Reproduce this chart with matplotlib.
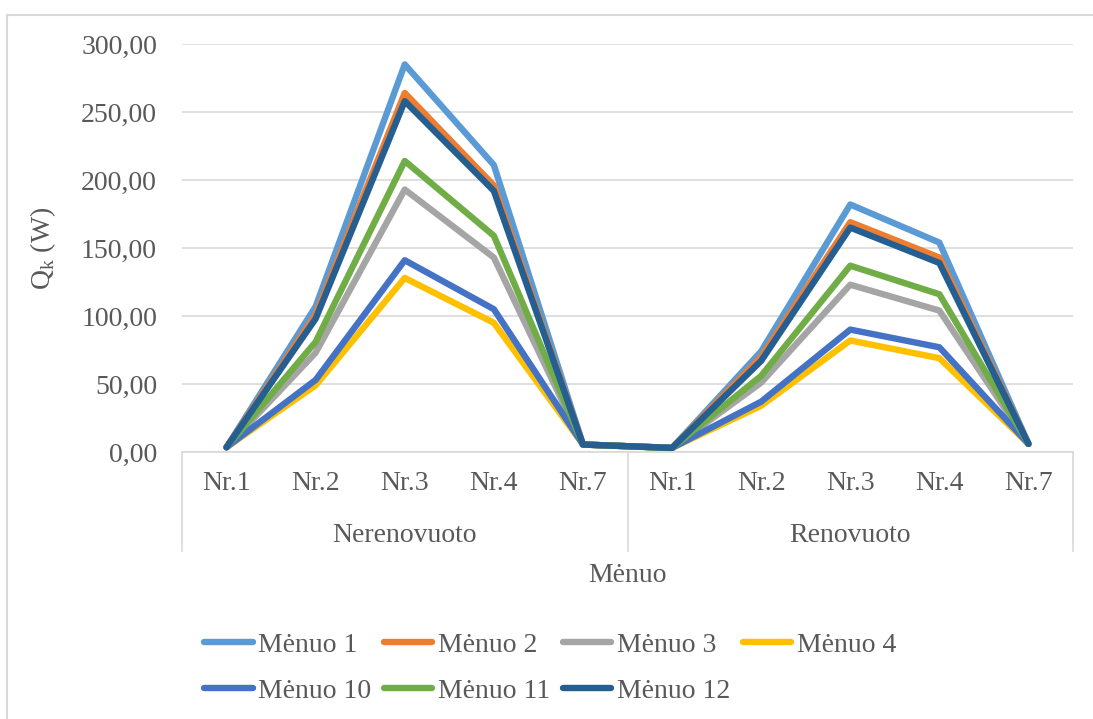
import matplotlib
matplotlib.use('Agg')
import matplotlib.pyplot as plt
from matplotlib.lines import Line2D
from matplotlib.ticker import FuncFormatter
import numpy as np

plt.rcParams['font.family'] = ['Liberation Serif', 'DejaVu Serif']
plt.rcParams['font.size'] = 20

# data
groups = ['Nerenovuoto', 'Renovuoto']
rooms = ['Nr.1', 'Nr.2', 'Nr.3', 'Nr.4', 'Nr.7']
labels = ['Mėnuo 1', 'Mėnuo 2', 'Mėnuo 3', 'Mėnuo 4', 'Mėnuo 10', 'Mėnuo 11', 'Mėnuo 12']
m1 = [3.5, 107, 285, 211, 5.5, 3, 74, 182, 154, 6]
m2 = [3.5, 101, 264, 196, 5.5, 3, 70, 169, 143, 6]
m3 = [3.5, 73, 193, 143, 5.5, 3, 51, 123, 104, 6]
m4 = [3.5, 49, 128, 95, 5.5, 3, 34, 82, 69, 6]
m10 = [3.5, 53, 141, 105, 5.5, 3, 37, 90, 77, 6]
m11 = [3.5, 81, 214, 159, 5.5, 3, 56, 137, 116, 6]
m12 = [3.5, 98, 258, 192, 5.5, 3, 67, 165, 139, 6]
series = [m1, m2, m3, m4, m10, m11, m12]
colors = ['#5B9BD5', '#ED7D31', '#A5A5A5', '#FFC000', '#4472C4', '#70AD47', '#255E91']

txt = '#595959'
grid = '#D9D9D9'
fs = 20

W, H = 1093, 719
fig = plt.figure(figsize=(W / 100, H / 100), dpi=100)
ax = fig.add_axes([182 / W, 1 - 452 / H, 891 / W, 408 / H])

x = np.arange(len(groups) * len(rooms))
handles = []
for vals, lab, c in zip(series, labels, colors):
    h, = ax.plot(x, vals, color=c, lw=4.6, label=lab,
                 solid_joinstyle='round', solid_capstyle='round')
    handles.append(h)

ax.set_xlim(-0.5, len(x) - 0.5)
ax.set_ylim(0, 300)
ax.set_yticks(np.arange(0, 301, 50))
ax.yaxis.set_major_formatter(FuncFormatter(lambda v, p: f'{v:.2f}'.replace('.', ',')))
ax.tick_params(axis='y', length=0, pad=18, colors=txt, labelsize=fs)
ax.set_xticks([])
ax.grid(axis='y', color=grid, lw=1.2)
ax.set_axisbelow(True)
for s in ['top', 'right', 'left']:
    ax.spines[s].set_visible(False)
ax.spines['bottom'].set_color(grid)
ax.spines['bottom'].set_linewidth(1.2)

ax.set_ylabel(r'Q$_\mathregular{k}$ (W)', color=txt, fontsize=fs)
ax.yaxis.set_label_coords(-0.139, 0.5)

# two-level category axis
tr = ax.get_xaxis_transform()
for b in [-0.5, 4.5, 9.5]:
    ax.plot([b, b], [0, -0.243], color=grid, lw=1.2, transform=tr, clip_on=False)
for i in x:
    ax.text(i, -0.078, rooms[i % len(rooms)], transform=tr, ha='center', va='center',
            color=txt, fontsize=fs)
for g, name in enumerate(groups):
    ax.text(g * 5 + 2, -0.205, name, transform=tr, ha='center', va='center',
            color=txt, fontsize=fs)

fig.text(627 / W, 1 - 575 / H, 'Mėnuo', ha='center', va='center', color=txt, fontsize=fs)

# legend: row 1 = Mėnuo 1..4, row 2 = Mėnuo 10..12
order = [0, 4, 1, 5, 2, 6, 3]
leg = fig.legend([handles[i] for i in order], [labels[i] for i in order],
                 loc='center', bbox_to_anchor=(550 / W, 1 - 668 / H), ncol=4,
                 frameon=False, fontsize=fs, handlelength=1.75, handletextpad=0.2,
                 columnspacing=0.45, labelspacing=0.75)
for t in leg.get_texts():
    t.set_color(txt)

# chart area border (only top and left visible in the crop)
fig.add_artist(Line2D([7 / W, 7 / W], [0, 1 - 15 / H], color=grid, lw=1.5))
fig.add_artist(Line2D([7 / W, 1], [1 - 15 / H, 1 - 15 / H], color=grid, lw=1.5))

fig.savefig('out.png', dpi=100)
